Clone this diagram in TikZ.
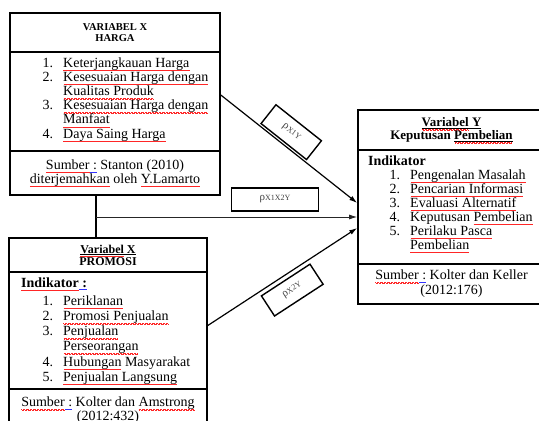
\documentclass[tikz,border=0pt]{standalone}
\usepackage{fontspec}
\setmainfont{Liberation Serif}
\usetikzlibrary{arrows.meta}
% red and blue marks under words
\newcommand{\sq}[1]{\leavevmode\setbox0\hbox{#1}\rlap{\smash{\hbox to\wd0{\color{red!85}\cleaders\hbox{\rule[-3.0pt]{0.7pt}{0.4pt}\rule[-3.5pt]{0.7pt}{0.4pt}}\hfil}}}\box0\relax}
\newcommand{\bq}[1]{\leavevmode\setbox0\hbox{#1}\rlap{\smash{\color{blue!80}\rule[-2.8pt]{\wd0}{0.4pt}}}\box0\relax}
\newcommand{\rh}[1]{ρ{\fontsize{8}{8}\selectfont #1}}

\begin{document}
\begin{tikzpicture}[x=1pt, y=-1pt, >={Latex[length=8pt,width=5pt]},
  box/.style={draw, line width=1.6pt, inner sep=0pt, align=center},
  lbl/.style={draw, line width=1.4pt, inner sep=0pt, minimum width=58, minimum height=24,
    text=black!75, font=\fontsize{11}{11}\selectfont},
  items/.style={inner sep=0pt, anchor=north west}]
\useasboundingbox (0,0) rectangle (539,421);
\clip (0,0) rectangle (539,421);

% variabel X1
\node[box, minimum width=210, minimum height=39, font=\bfseries\fontsize{10.5}{11}\selectfont] (x1title) at (115,32.5) {VARIABEL X\\HARGA};
\node[box, minimum width=210, minimum height=99] (x1list) at (115,101.5) {};
\node[box, minimum width=210, minimum height=44, font=\fontsize{14}{14}\selectfont] (x1src) at (115,173) {\sq{Sumber}\bq{~:} Stanton (2010)\\\sq{diterjemahkan} oleh \sq{Y.Lamarto}};
\node[items, font=\fontsize{14}{14.2}\selectfont] (x1items) at (42.5,57) {%
  \begin{tabular}{@{}r@{\hspace{10pt}}l@{}}
  1. & \sq{Keterjangkauan Harga}\\
  2. & \sq{Kesesuaian Harga dengan}\\
     & \sq{Kualitas Produk}\\
  3. & \sq{Kesesuaian Harga dengan}\\
     & \sq{Manfaat}\\
  4. & \sq{Daya Saing Harga}
  \end{tabular}};

% variabel X2
\node[box, minimum width=198, minimum height=34, font=\bfseries\fontsize{12}{12}\selectfont] (x2title) at (108,255) {\underline{\sq{Variabel}~X}\\PROMOSI};
\node[box, minimum width=198, minimum height=117] (x2list) at (108,330.5) {};
\node[box, minimum width=198, minimum height=43, font=\fontsize{14}{14}\selectfont] (x2src) at (108,410.5) {\sq{Sumber}\bq{~:} Kolter dan \sq{Amstrong}\\(2012:432)};
\node[anchor=base west, inner sep=0pt, font=\bfseries\fontsize{14}{14}\selectfont] (x2ind) at (21,287) {\sq{Indikator}\bq{~:}};
\node[items, font=\fontsize{14}{15.2}\selectfont] (x2items) at (42.5,294.4) {%
  \begin{tabular}{@{}r@{\hspace{10pt}}l@{}}
  1. & \sq{Periklanan}\\
  2. & \sq{Promosi Penjualan}\\
  3. & \sq{Penjualan}\\
     & \sq{Perseorangan}\\
  4. & \sq{Hubungan} Masyarakat\\
  5. & \sq{Penjualan Langsung}
  \end{tabular}};

% variabel Y
\node[box, minimum width=187, minimum height=40, font=\bfseries\fontsize{13}{13}\selectfont] (ytitle) at (451.5,130) {\underline{\sq{Variabel}~Y}\\Keputusan \underline{\sq{Pembelian}}};
\node[box, minimum width=187, minimum height=114] (ylist) at (451.5,207) {};
\node[box, minimum width=187, minimum height=40, font=\fontsize{14}{15}\selectfont] (ysrc) at (451.5,284) {\sq{Sumber}\bq{~:} Kolter dan Keller\\(2012:176)};
\node[anchor=base west, inner sep=0pt, font=\bfseries\fontsize{14}{14}\selectfont] (yind) at (368,165) {Indikator};
\node[items, font=\fontsize{14}{14}\selectfont] (yitems) at (389.5,169.2) {%
  \begin{tabular}{@{}r@{\hspace{10pt}}l@{}}
  1. & \sq{Pengenalan Masalah}\\
  2. & \sq{Pencarian Informasi}\\
  3. & \sq{Evaluasi Alternatif}\\
  4. & Keputusan \sq{Pembelian}\\
  5. & \sq{Perilaku Pasca}\\
     & \sq{Pembelian}
  \end{tabular}};

% paths
\coordinate (cab) at (96,217);
\draw[line width=1.3pt] (x1src.south -| cab) -- (x2title.north -| cab);
\draw[->, line width=1.2pt] ([yshift=6.5pt]x1list.east) -- node[lbl, sloped, pos=0.45, anchor=south, outer sep=2.6pt] (p1) {\rh{X1Y}} ([yshift=4pt]ylist.west);
\draw[->, line width=0.9pt, black!85] (cab) -- node[lbl, pos=0.685, anchor=south, outer sep=6pt, minimum width=87, minimum height=23, draw=black] (p12) {\rh{X1X2Y}} ([yshift=-10pt]ylist.west);
\draw[->, line width=1.2pt] ([yshift=5pt]x2list.east) -- node[lbl, sloped, pos=0.505, anchor=north, outer sep=4.5pt] (p2) {\rh{X2Y}} ([yshift=-21pt]ylist.west);
\end{tikzpicture}
\end{document}
